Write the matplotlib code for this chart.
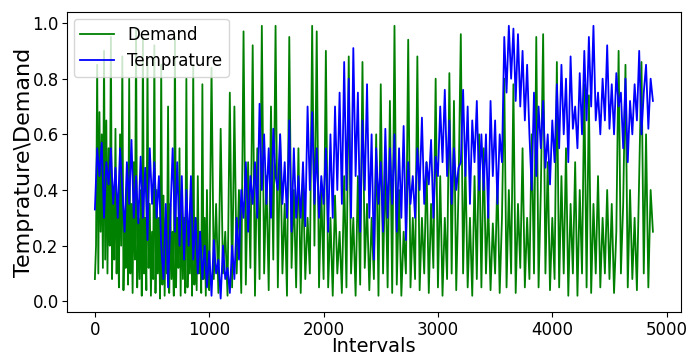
import numpy as np
import matplotlib
matplotlib.use("Agg")
import matplotlib.pyplot as plt

# Demand: every 10 intervals up to 990, then every 20 intervals
demand_fine = [
    0.08, 0.2, 0.85, 0.1, 0.68, 0.25, 0.6, 0.12, 0.9, 0.15,
    0.65, 0.1, 0.55, 0.2, 0.95, 0.08, 0.4, 0.15, 0.62, 0.1,
    0.35, 0.05, 0.6, 0.2, 0.88, 0.04, 0.3, 0.12, 0.45, 0.06,
    0.8, 0.1, 0.35, 0.03, 0.5, 0.15, 0.98, 0.05, 0.3, 0.08,
    0.4, 0.02, 0.95, 0.1, 0.3, 0.04, 0.87, 0.12, 0.35, 0.02,
    0.25, 0.08, 0.92, 0.03, 0.4, 0.1, 0.3, 0.01, 0.85, 0.06,
    0.38, 0.02, 0.3, 0.1, 0.7, 0.03, 0.35, 0.08, 0.25, 0.02,
    0.95, 0.05, 0.3, 0.12, 0.55, 0.02, 0.4, 0.08, 0.3, 0.03,
    0.8, 0.05, 0.25, 0.1, 0.35, 0.02, 0.85, 0.06, 0.3, 0.04,
    0.45, 0.1, 0.25, 0.03, 0.78, 0.08, 0.3, 0.02, 0.4, 0.06,
]
demand_coarse = [
    0.04, 0.84, 0.08, 0.35, 0.03, 0.62, 0.1, 0.25, 0.02, 0.75,
    0.05, 0.7, 0.1, 0.4, 0.03, 0.97, 0.06, 0.5, 0.12, 0.92,
    0.02, 0.55, 0.08, 0.99, 0.1, 0.45, 0.04, 0.7, 0.15, 0.99,
    0.05, 0.6, 0.1, 0.35, 0.02, 0.95, 0.12, 0.4, 0.05, 0.55,
    0.03, 0.45, 0.08, 0.3, 0.1, 0.99, 0.2, 0.97, 0.05, 0.4,
    0.08, 0.9, 0.05, 0.3, 0.02, 0.38, 0.1, 0.25, 0.03, 0.45,
    0.05, 0.88, 0.1, 0.3, 0.02, 0.45, 0.06, 0.86, 0.12, 0.35,
    0.04, 0.3, 0.08, 0.6, 0.02, 0.78, 0.1, 0.5, 0.05, 0.72,
    0.03, 0.99, 0.06, 0.4, 0.02, 0.25, 0.1, 0.94, 0.05, 0.3,
    0.08, 0.88, 0.04, 0.3, 0.1, 0.5, 0.03, 0.35, 0.12, 0.8,
    0.05, 0.45, 0.02, 0.3, 0.08, 0.82, 0.1, 0.72, 0.04, 0.4,
    0.96, 0.1, 0.5, 0.05, 0.3, 0.02, 0.45, 0.08, 0.6, 0.05,
    0.55, 0.1, 0.35, 0.04, 0.28, 0.1, 0.45, 0.03, 0.3, 0.8,
    0.05, 0.4, 0.1, 0.78, 0.03, 0.35, 0.12, 0.55, 0.05, 0.3,
    0.08, 0.6, 0.1, 0.95, 0.05, 0.4, 0.96, 0.1, 0.5, 0.04,
    0.3, 0.08, 0.86, 0.05, 0.45, 0.1, 0.55, 0.02, 0.35, 0.1,
    0.5, 0.02, 0.4, 0.1, 0.78, 0.05, 0.74, 0.03, 0.35, 0.1,
    0.45, 0.05, 0.3, 0.1, 0.4, 0.08, 0.35, 0.03, 0.25, 0.9,
    0.1, 0.35, 0.85, 0.05, 0.4, 0.08, 0.3, 0.04, 0.45, 0.86,
    0.1, 0.6, 0.05, 0.4, 0.25,
]
# Temperature: every 20 intervals
temperature = [
    0.33, 0.55, 0.45, 0.57, 0.3, 0.5, 0.42, 0.55, 0.35, 0.48,
    0.3, 0.55, 0.4, 0.25, 0.5, 0.35, 0.58, 0.3, 0.45, 0.28,
    0.52, 0.3, 0.48, 0.22, 0.55, 0.35, 0.5, 0.3, 0.45, 0.2,
    0.08, 0.35, 0.05, 0.3, 0.55, 0.25, 0.5, 0.2, 0.45, 0.15,
    0.4, 0.2, 0.45, 0.15, 0.3, 0.1, 0.25, 0.08, 0.2, 0.05,
    0.18, 0.02, 0.22, 0.1, 0.15, 0.01, 0.2, 0.08, 0.12, 0.03,
    0.2, 0.08, 0.3, 0.15, 0.4, 0.3, 0.5, 0.25, 0.45, 0.35,
    0.5, 0.3, 0.71, 0.4, 0.6, 0.35, 0.55, 0.3, 0.62, 0.45,
    0.4, 0.6, 0.35, 0.5, 0.3, 0.65, 0.25, 0.55, 0.3, 0.45,
    0.3, 0.5, 0.27, 0.7, 0.4, 0.68, 0.35, 0.55, 0.3, 0.45,
    0.35, 0.55, 0.25, 0.6, 0.3, 0.7, 0.4, 0.75, 0.35, 0.86,
    0.4, 0.8, 0.3, 0.91, 0.45, 0.75, 0.25, 0.65, 0.4, 0.78,
    0.3, 0.6, 0.15, 0.55, 0.35, 0.5, 0.25, 0.62, 0.3, 0.55,
    0.35, 0.6, 0.25, 0.55, 0.3, 0.63, 0.22, 0.5, 0.35, 0.45,
    0.3, 0.55, 0.4, 0.66, 0.35, 0.5, 0.42, 0.58, 0.3, 0.52,
    0.45, 0.7, 0.5, 0.76, 0.45, 0.65, 0.35, 0.55, 0.4, 0.48,
    0.5, 0.76, 0.45, 0.7, 0.35, 0.65, 0.5, 0.72, 0.4, 0.6,
    0.4, 0.6, 0.3, 0.72, 0.45, 0.65, 0.35, 0.6, 0.5, 0.95,
    0.75, 0.99, 0.8, 0.98, 0.72, 0.96, 0.7, 0.9, 0.65, 0.85,
    0.6, 0.4, 0.75, 0.45, 0.7, 0.55, 0.72, 0.48, 0.6, 0.42,
    0.65, 0.5, 0.78, 0.55, 0.85, 0.6, 0.8, 0.5, 0.88, 0.62,
    0.7, 0.55, 0.82, 0.6, 0.9, 0.65, 0.95, 0.7, 0.99, 0.65,
    0.75, 0.6, 0.8, 0.65, 0.92, 0.62, 0.78, 0.6, 0.82, 0.7,
    0.75, 0.55, 0.8, 0.5, 0.72, 0.6, 0.78, 0.65, 0.9, 0.6,
    0.75, 0.85, 0.62, 0.8, 0.72,
]

demand = demand_fine + demand_coarse
demand_x = np.concatenate([np.arange(len(demand_fine)) * 10,
                           1000 + np.arange(len(demand_coarse)) * 20])
temp_x = np.arange(len(temperature)) * 20

fig = plt.figure(figsize=(6.87, 3.58), dpi=100)
ax = fig.add_axes([0.0975, 0.128, 0.8935, 0.838])
ax.plot(demand_x, demand, color="green", linewidth=1.3, label="Demand")
ax.plot(temp_x, temperature, color="blue", linewidth=1.3, label="Temprature")
ax.set_xlabel("Intervals", fontsize=14, labelpad=-1)
ax.set_ylabel("Temprature\\Demand", fontsize=16, labelpad=-1)
ax.tick_params(labelsize=12, pad=2.5)
ax.set_xticks([0, 1000, 2000, 3000, 4000, 5000])
ax.set_yticks([0.0, 0.2, 0.4, 0.6, 0.8, 1.0])
ax.legend(loc="upper left", fontsize=12, borderaxespad=0.4)
fig.savefig("out.png", dpi=100)
